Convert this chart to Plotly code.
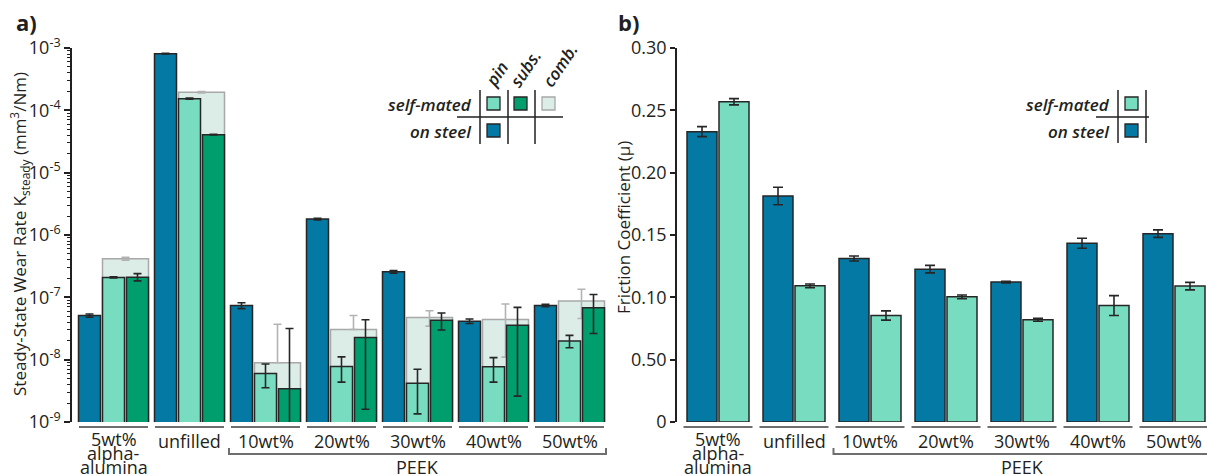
import plotly.graph_objects as go

# ---------------- data ----------------
groups = ["5wt%", "unfilled", "10wt%", "20wt%", "30wt%", "40wt%", "50wt%"]

# (a) steady-state wear rate, mm^3/Nm
wear_steel = [5.1e-8, 8.1e-4, 7.4e-8, 1.8e-6, 2.57e-7, 4.15e-8, 7.4e-8]
wear_steel_err = [0.3e-8, 0.1e-4, 0.8e-8, 0.05e-6, 0.12e-7, 0.35e-8, 0.35e-8]

wear_pin = [2.09e-7, 1.54e-4, 6.0e-9, 7.8e-9, 4.2e-9, 7.7e-9, 1.99e-8]
wear_pin_err_up = [0.05e-7, 0.03e-4, 2.5e-9, 3.3e-9, 2.8e-9, 3.1e-9, 0.46e-8]
wear_pin_err_dn = [0.05e-7, 0.03e-4, 2.45e-9, 3.44e-9, 2.85e-9, 3.34e-9, 0.44e-8]

wear_subs = [2.1e-7, 4.06e-5, 3.4e-9, 2.27e-8, 4.3e-8, 3.55e-8, 6.8e-8]
wear_subs_err_up = [0.3e-7, 0.05e-5, 2.82e-8, 2.1e-8, 1.3e-8, 3.35e-8, 4.3e-8]
wear_subs_err_dn = [0.26e-7, 0.05e-5, 3.39e-9, 2.11e-8, 1.3e-8, 3.29e-8, 4.17e-8]

wear_comb = [4.15e-7, 1.95e-4, 8.9e-9, 3.05e-8, 4.75e-8, 4.4e-8, 8.7e-8]
wear_comb_err_up = [0.25e-7, 0.05e-4, 2.8e-8, 2.05e-8, 1.35e-8, 3.4e-8, 4.8e-8]
wear_comb_err_dn = [0.2e-7, 0.05e-4, 0.0, 0.0, 1.3e-8, 3.3e-8, 4.13e-8]

# (b) friction coefficient
mu_steel = [0.2329, 0.1813, 0.1311, 0.1226, 0.1122, 0.1434, 0.1511]
mu_steel_err = [0.004, 0.007, 0.002, 0.003, 0.0006, 0.004, 0.003]
mu_self = [0.2569, 0.1092, 0.0854, 0.1004, 0.0820, 0.0934, 0.1090]
mu_self_err = [0.0025, 0.0015, 0.0037, 0.0015, 0.0012, 0.008, 0.003]

wear_tickvals = [1e-9, 1e-8, 1e-7, 1e-6, 1e-5, 1e-4, 1e-3]
wear_ticktext = ["10<sup>-9</sup>", "10<sup>-8</sup>", "10<sup>-7</sup>", "10<sup>-6</sup>",
                 "10<sup>-5</sup>", "10<sup>-4</sup>", "10<sup>-3</sup>"]
mu_tickvals = [0, 0.05, 0.10, 0.15, 0.20, 0.25, 0.30]
mu_ticktext = ["0", "0.50", "0.10", "0.15", "0.20", "0.25", "0.30"]

# ---------------- styling ----------------
C_STEEL = "#0379a4"
C_PIN = "#78ddc0"
C_SUBS = "#009e6c"
C_COMB = "#dcede8"
EDGE = "#262626"
INK = "#231f20"
FONT = "Open Sans"

W, H = 1207, 476
PLOT_TOP, PLOT_BOT = 48, 422


def X(px):
    return px / W


def Y(py):
    return (PLOT_BOT - py) / (PLOT_BOT - PLOT_TOP)


GAP = 76.0  # pixels between group centres
xi = list(range(len(groups)))

fig = go.Figure()


def err(arr, arrm=None, color=EDGE, thick=1.6, width=4):
    d = dict(type="data", array=arr, visible=True, color=color, thickness=thick, width=width)
    if arrm is not None:
        d["symmetric"] = False
        d["arrayminus"] = arrm
    return d


# panel (a): bars with 24 px pitch, 22 px wide
step_a, bw_a = 24 / GAP, 22 / GAP
fig.add_bar(x=[i - step_a for i in xi], y=wear_steel, width=bw_a,
            marker=dict(color=C_STEEL, line=dict(color=EDGE, width=1.5)),
            error_y=err(wear_steel_err), xaxis="x", yaxis="y", showlegend=False)
fig.add_bar(x=[i + step_a / 2 for i in xi], y=wear_comb, width=step_a + bw_a,
            marker=dict(color=C_COMB, line=dict(color="#a8a8a8", width=1.5)),
            error_y=err(wear_comb_err_up, wear_comb_err_dn, color="#b3b3b3"),
            xaxis="x", yaxis="y", showlegend=False)
fig.add_bar(x=xi, y=wear_pin, width=bw_a,
            marker=dict(color=C_PIN, line=dict(color=EDGE, width=1.5)),
            error_y=err(wear_pin_err_up, wear_pin_err_dn), xaxis="x", yaxis="y", showlegend=False)
fig.add_bar(x=[i + step_a for i in xi], y=wear_subs, width=bw_a,
            marker=dict(color=C_SUBS, line=dict(color=EDGE, width=1.5)),
            error_y=err(wear_subs_err_up, wear_subs_err_dn), xaxis="x", yaxis="y", showlegend=False)

# panel (b): bars with 32 px pitch, 30 px wide
step_b, bw_b = 32 / GAP, 30 / GAP
fig.add_bar(x=[i - step_b / 2 for i in xi], y=mu_steel, width=bw_b,
            marker=dict(color=C_STEEL, line=dict(color=EDGE, width=1.5)),
            error_y=err(mu_steel_err, width=5), xaxis="x2", yaxis="y2", showlegend=False)
fig.add_bar(x=[i + step_b / 2 for i in xi], y=mu_self, width=bw_b,
            marker=dict(color=C_PIN, line=dict(color=EDGE, width=1.5)),
            error_y=err(mu_self_err, width=5), xaxis="x2", yaxis="y2", showlegend=False)

# axis geometry
A_AXIS, A_C0, A_RIGHT = 72, 113.5, 607
B_AXIS, B_C0, B_RIGHT = 677, 718, 1207

axis_font = dict(family=FONT, size=18, color=INK)
fig.update_layout(
    width=W, height=H, margin=dict(l=0, r=0, t=PLOT_TOP, b=H - PLOT_BOT),
    plot_bgcolor="white", paper_bgcolor="white", barmode="overlay",
    font=dict(family=FONT, color=INK),
    xaxis=dict(domain=[X(A_AXIS), X(A_RIGHT)],
               range=[(A_AXIS - A_C0) / GAP, (A_RIGHT - A_C0) / GAP],
               showticklabels=False, showgrid=False, zeroline=False, showline=False, ticks=""),
    yaxis=dict(type="log", range=[-9, -3], anchor="x", showgrid=False, zeroline=False,
               showline=True, linecolor=INK, linewidth=1.5,
               ticks="outside", ticklen=6, tickwidth=1.5, tickcolor=INK,
               tickvals=wear_tickvals, ticktext=wear_ticktext, tickfont=axis_font,
               minor=dict(ticks="outside", ticklen=3, tickwidth=1, tickcolor=INK,
                          tickvals=[m * 10 ** e for e in range(-9, -3) for m in range(2, 10)])),
    xaxis2=dict(domain=[X(B_AXIS), X(B_RIGHT)],
                range=[(B_AXIS - B_C0) / GAP, (B_RIGHT - B_C0) / GAP],
                showticklabels=False, showgrid=False, zeroline=False, showline=False, ticks=""),
    yaxis2=dict(range=[0, 0.30], anchor="x2", showgrid=False, zeroline=False,
                showline=True, linecolor=INK, linewidth=1.5,
                ticks="outside", ticklen=5, tickwidth=1.5, tickcolor=INK,
                tickvals=mu_tickvals, ticktext=mu_ticktext, tickfont=axis_font),
)

shapes = []
ann = []
GRAY = "#6e6e6e"
CAT_FONT = dict(family=FONT, size=18, color=INK)


def label(text, x, y, xref="paper", yref="paper", font=None, xanchor="center", angle=0):
    ann.append(dict(xref=xref, yref=yref, x=x, y=y, text=text, showarrow=False,
                    xanchor=xanchor, yanchor="middle", textangle=angle,
                    font=font or CAT_FONT))


# group underlines and category labels
for xa in ("x", "x2"):
    for i, g in enumerate(groups):
        shapes.append(dict(type="line", xref=xa, yref="paper", x0=i - 34.5 / GAP, x1=i + 34.5 / GAP,
                           y0=Y(427), y1=Y(427), line=dict(color=GRAY, width=2)))
        if i == 0:
            for txt, py in (("5wt%", 439), ("alpha-", 453), ("alumina", 467)):
                label(txt, i, Y(py), xref=xa)
        else:
            label(g, i, Y(441), xref=xa)
    # PEEK bracket
    x0, x1 = 2 - 36.5 / GAP, 6 + 36.5 / GAP
    shapes.append(dict(type="path", xref=xa, yref="paper",
                       path=f"M {x0},{Y(448)} L {x0},{Y(454)} L {x1},{Y(454)} L {x1},{Y(448)}",
                       line=dict(color=GRAY, width=2)))
    label("PEEK", (x0 + x1) / 2, Y(467), xref=xa)

# panel letters and axis titles
letter_font = dict(family=FONT, size=22, color=INK)
label("<b>a)</b>", X(14), Y(22), font=letter_font, xanchor="left")
label("<b>b)</b>", X(616), Y(22), font=letter_font, xanchor="left")
title_font = dict(family=FONT, size=17, color=INK)
label("Steady-State Wear Rate K<sub>steady</sub> (mm<sup>3</sup>/Nm)", X(19), Y(234),
      font=title_font, angle=-90)
label("Friction Coefficient (µ)", X(623), Y(228), font=title_font, angle=-90)

# legend grid, panel (a)
leg_font = dict(family=FONT, size=17, color=INK, style="italic", weight=600)
label("self-mated", X(474), Y(104), font=leg_font, xanchor="right")
label("on steel", X(474), Y(131), font=leg_font, xanchor="right")
for txt, cx, cy in (("pin", 497, 74), ("subs.", 525, 68), ("comb.", 560, 66)):
    label(txt, X(cx), Y(cy), font=leg_font, angle=-56)
for vx in (480, 508, 535):
    shapes.append(dict(type="line", xref="paper", yref="paper", x0=X(vx), x1=X(vx), y0=Y(90), y1=Y(144),
                       line=dict(color=INK, width=1.5)))
shapes.append(dict(type="line", xref="paper", yref="paper", x0=X(457), x1=X(563), y0=Y(117), y1=Y(117),
                   line=dict(color=INK, width=1.5)))
for (sx, sy, col, edge) in ((487, 97, C_PIN, EDGE), (514, 97, C_SUBS, EDGE),
                            (542, 97, C_COMB, "#a8a8a8"), (487, 124, C_STEEL, EDGE)):
    shapes.append(dict(type="rect", xref="paper", yref="paper", x0=X(sx), x1=X(sx + 13),
                       y0=Y(sy), y1=Y(sy + 13), fillcolor=col, line=dict(color=edge, width=1.3)))

# legend grid, panel (b)
label("self-mated", X(1112), Y(104), font=leg_font, xanchor="right")
label("on steel", X(1112), Y(131), font=leg_font, xanchor="right")
for vx in (1118, 1146):
    shapes.append(dict(type="line", xref="paper", yref="paper", x0=X(vx), x1=X(vx), y0=Y(90), y1=Y(143),
                       line=dict(color=INK, width=1.5)))
shapes.append(dict(type="line", xref="paper", yref="paper", x0=X(1096), x1=X(1149), y0=Y(117), y1=Y(117),
                   line=dict(color=INK, width=1.5)))
for (sx, sy, col) in ((1125, 97, C_PIN), (1125, 124, C_STEEL)):
    shapes.append(dict(type="rect", xref="paper", yref="paper", x0=X(sx), x1=X(sx + 13),
                       y0=Y(sy), y1=Y(sy + 13), fillcolor=col, line=dict(color=EDGE, width=1.3)))

fig.update_layout(shapes=shapes, annotations=ann)
fig.write_html("out.html")
